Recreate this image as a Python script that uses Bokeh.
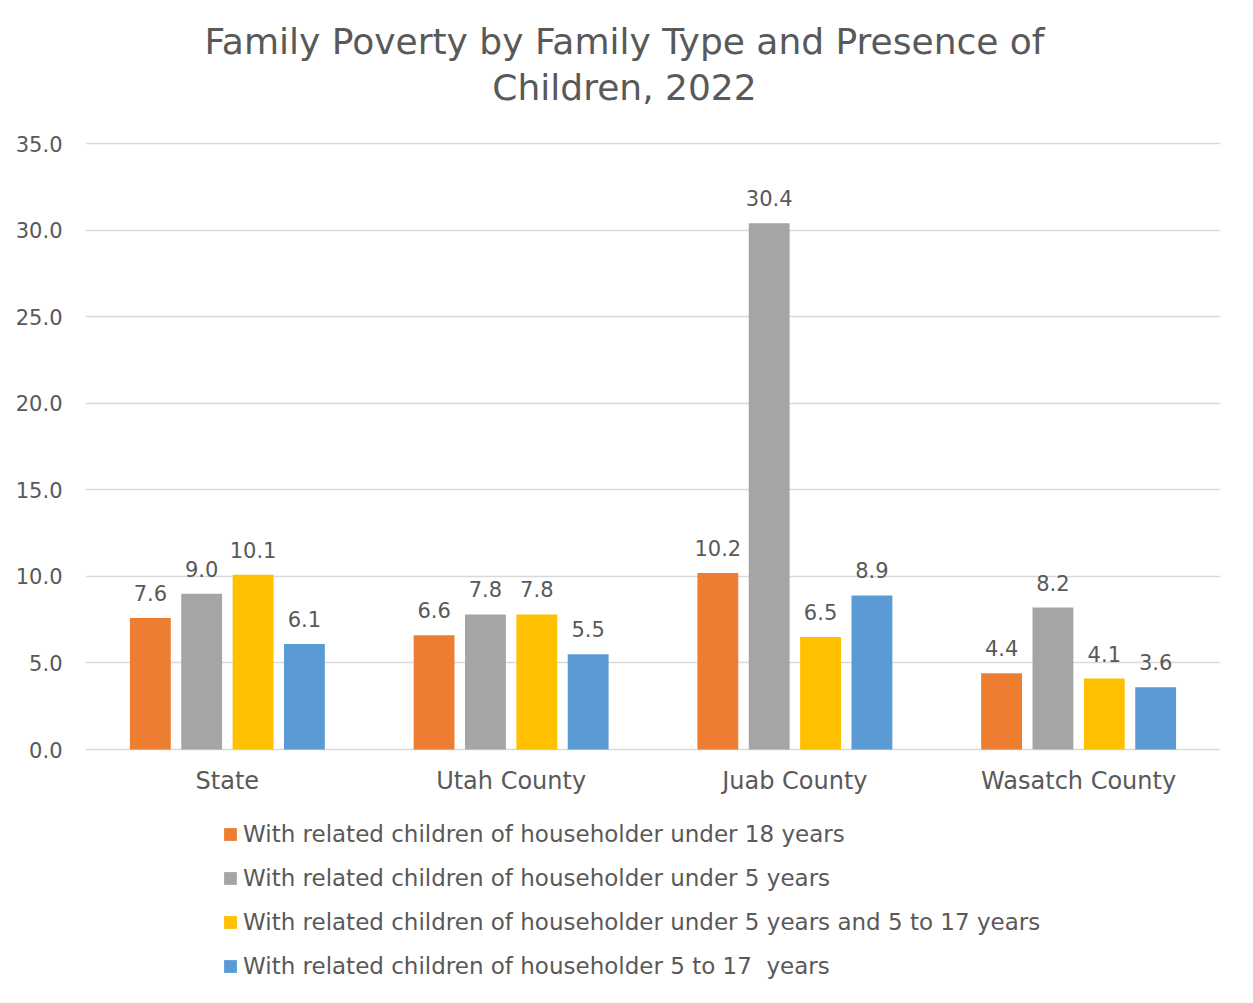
from bokeh.plotting import figure
from bokeh.models import (ColumnDataSource, FactorRange, Range1d, FixedTicker, NumeralTickFormatter,
                          LabelSet, Label, Legend, LegendItem)
from bokeh.core.properties import value
from bokeh.transform import dodge
from bokeh.embed import file_html
from bokeh.resources import INLINE

categories = ["State", "Utah County", "Juab County", "Wasatch County"]
under18 = [7.6, 6.6, 10.2, 4.4]
under5 = [9.0, 7.8, 30.4, 8.2]
under5_and_5to17 = [10.1, 7.8, 6.5, 4.1]
age5to17 = [6.1, 5.5, 8.9, 3.6]
series_names = [
    "With related children of householder under 18 years",
    "With related children of householder under 5 years",
    "With related children of householder under 5 years and 5 to 17 years",
    "With related children of householder 5 to 17  years",
]
y_ticks = [0, 5, 10, 15, 20, 25, 30, 35]
title_lines = ["Family Poverty by Family Type and Presence of", "Children, 2022"]

colors = ["#ED7D31", "#A5A5A5", "#FFC000", "#5B9BD5"]
FONT = "DejaVu Sans"
TXT = "#595959"

series = [under18, under5, under5_and_5to17, age5to17]
data = {"cat": categories, "zero": [0] * len(categories)}
for i, s in enumerate(series):
    data[f"s{i}"] = s
    data[f"l{i}"] = [f"{v:.1f}" for v in s]
source = ColumnDataSource(data)

# frame spans the full figure height; 0 -> 749px from top, 35 -> 143px from top
px_per_unit = 606 / 35
y_top = 35 + 143 / px_per_unit
y_bot = -(987 - 749) / px_per_unit

p = figure(width=1237, height=987, x_range=FactorRange(*categories, range_padding=0),
           y_range=Range1d(y_bot, y_top), output_backend="svg", toolbar_location=None,
           x_axis_location=None, min_border_left=85, min_border_right=17,
           min_border_top=0, min_border_bottom=0)
p.styles = {"box-shadow": "-1px -1px 0 0 #d9d9d9"}
p.outline_line_color = None
p.background_fill_color = "white"

offsets = [-0.2715, -0.0905, 0.0905, 0.2715]
renderers = []
for i in range(4):
    xd = dodge("cat", offsets[i], range=p.x_range)
    r = p.vbar(x=xd, top=f"s{i}", bottom="zero", width=0.144, source=source,
               fill_color=colors[i], line_color=None)
    renderers.append(r)
    p.add_layout(LabelSet(x=xd, y=f"s{i}", text=f"l{i}", source=source, text_align="center",
                          text_baseline="alphabetic", y_offset=17, text_font=value(FONT),
                          text_font_size="21px", text_color=TXT))

# category labels under the baseline
p.text(x="cat", y="zero", text="cat", source=source, text_align="center",
       text_baseline="alphabetic", y_offset=31, text_font=value(FONT),
       text_font_size="24px", text_color=TXT)

p.yaxis.ticker = FixedTicker(ticks=y_ticks)
p.yaxis.formatter = NumeralTickFormatter(format="0.0")
p.yaxis.axis_line_color = None
p.yaxis.major_tick_line_color = None
p.yaxis.minor_tick_line_color = None
p.yaxis.major_tick_out = 0
p.yaxis.major_label_standoff = 23
p.yaxis.major_label_text_font = FONT
p.yaxis.major_label_text_font_size = "21px"
p.yaxis.major_label_text_color = TXT

p.xgrid.grid_line_color = None
p.ygrid.grid_line_color = "#D9D9D9"
p.ygrid.grid_line_width = 1.5

# title as two centered lines (screen units relative to frame bottom-left)
p.add_layout(Label(x=539, y=987 - 57 + 16, x_units="screen", y_units="screen", text=title_lines[0],
                   text_align="center", text_baseline="alphabetic", text_font=FONT,
                   text_font_size="36px", text_color=TXT))
p.add_layout(Label(x=539, y=987 - 100 + 13, x_units="screen", y_units="screen", text=title_lines[1],
                   text_align="center", text_baseline="alphabetic", text_font=FONT,
                   text_font_size="36px", text_color=TXT))

legend = Legend(items=[LegendItem(label=series_names[i], renderers=[renderers[i]]) for i in range(4)],
                location=(137, 8), orientation="vertical",
                glyph_width=16, glyph_height=16, label_height=24, spacing=18,
                label_standoff=5, padding=0, margin=0, border_line_color=None,
                background_fill_alpha=0, label_text_font=FONT, label_text_font_size="23px",
                label_text_color=TXT)
p.add_layout(legend, "center")

open("out.html", "w").write(file_html(p, INLINE))
